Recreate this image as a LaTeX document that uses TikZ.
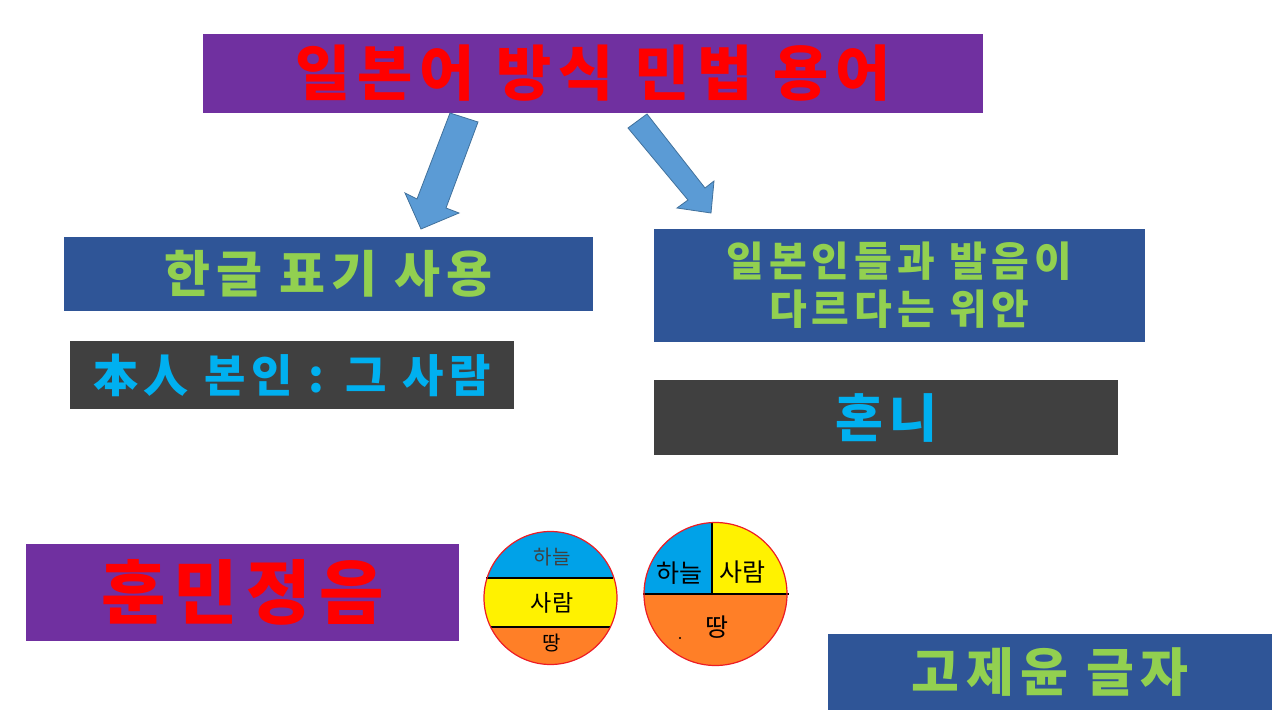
\documentclass[tikz,border=0pt]{standalone}
\usepackage{fontspec}
\setmainfont{Noto Sans CJK KR}
\newfontfamily\widekr{Noto Sans CJK KR}[LetterSpace=12]
\usetikzlibrary{positioning}
\definecolor{ppl}{HTML}{7030A0}
\definecolor{navy}{HTML}{2F5597}
\definecolor{grn}{HTML}{92D050}
\definecolor{drk}{HTML}{404040}
\definecolor{cyn}{HTML}{00B0F0}
\definecolor{arw}{HTML}{5B9BD5}
\definecolor{arwline}{HTML}{41719C}
\definecolor{sky}{HTML}{00A2E8}
\definecolor{yel}{HTML}{FFF200}
\definecolor{org}{HTML}{FF7F27}
\definecolor{rim}{HTML}{ED1C24}
\newcommand{\fs}[1]{\fontsize{#1}{1.17\dimexpr #1pt\relax}\selectfont}

\begin{document}
\begin{tikzpicture}[x=1pt,y=-1pt,box/.style={inner sep=0pt,align=center,font=\widekr\bfseries}]
  \useasboundingbox[fill=white] (0,0) rectangle (1280,720);
  % title and boxes
  \node[box,fill=ppl,text=red,minimum width=780,minimum height=79] (title) at (593,73.5){\fs{60}일본어 방식 민법 용어};
  \node[box,fill=navy,text=grn,minimum width=529,minimum height=74] (hangul) at (328.5,274){\fs{50}한글 표기 사용};
  \node[box,fill=navy,text=grn,minimum width=491,minimum height=113,font=\widekr\bfseries\fs{41}] (wian) at (899.5,285){일본인들과 발음이\\다르다는 위안};
  \node[box,fill=drk,text=cyn,minimum width=444,minimum height=68] (bonin) at (292,375){\fs{45}本人 본인 : 그 사람};
  \node[box,fill=drk,text=cyn,minimum width=464,minimum height=75] (honni) at (886,417.5){\fs{52}혼니};
  \node[box,fill=ppl,text=red,minimum width=433,minimum height=97] (hunmin) at (242.5,592.5){\fs{70}훈민정음};
  \node[box,fill=navy,text=grn,minimum width=444,minimum height=76] (goje) at (1050,672){\fs{52}고제윤 글자};
  % block arrows
  \filldraw[fill=arw,draw=arwline,line width=0.8pt] (450,113) -- (478,122) -- (446,208) -- (459,213) -- (421,229) -- (405,193) -- (417,199) -- cycle;
  \filldraw[fill=arw,draw=arwline,line width=0.8pt] (647,114) -- (705,188) -- (714,181) -- (711,213) -- (677,208) -- (688,200) -- (628,128) -- cycle;
  % circle one: three bands
  \begin{scope}
    \clip (550.5,598) circle(66.5);
    \fill[sky] (480,525) rectangle (620,578);
    \fill[yel] (480,578) rectangle (620,627);
    \fill[org] (480,627) rectangle (620,670);
  \end{scope}
  \draw[line width=1.3pt] (486,578) -- (613,578) (491,627) -- (610,627);
  \draw[rim,line width=1.2pt] (550.5,598) circle(66.5);
  \node[text=drk] (ha1) at (552,557){\fs{20}하늘};
  \node (sa1) at (552,603){\fs{23}사람};
  \node (tt1) at (552,643){\fs{20}땅};
  % circle two: quarters and half
  \begin{scope}
    \clip (715.5,594) circle(71.5);
    \fill[sky] (640,518) rectangle (712,594);
    \fill[yel] (712,518) rectangle (792,594);
    \fill[org] (640,594) rectangle (792,670);
  \end{scope}
  \draw[line width=1.3pt] (643,594) -- (789,594) (712,522) -- (712,594);
  \draw[rim,line width=1.2pt] (715.5,594) circle(71.5);
  \node (ha2) at (679,573){\fs{25}하늘};
  \node (sa2) at (742,572){\fs{25}사람};
  \node (tt2) at (717,627){\fs{25}땅};
  \fill (680,638) circle(1.2);
\end{tikzpicture}
\end{document}
